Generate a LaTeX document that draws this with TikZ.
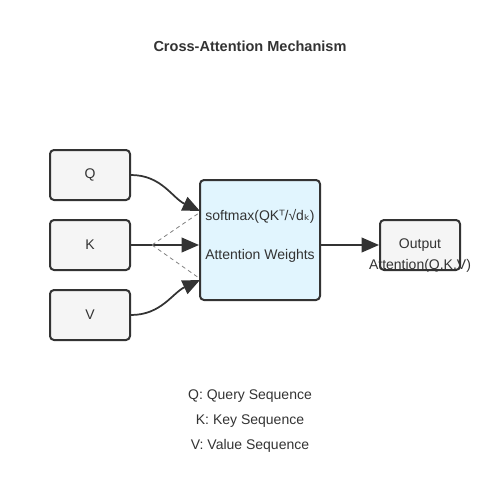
\documentclass[tikz,border=0pt]{standalone}
\usepackage{fontspec}
\setmainfont{Liberation Sans}
\newfontfamily\symfont{DejaVu Sans}
\usetikzlibrary{arrows.meta, positioning}

\definecolor{inkgray}{HTML}{333333}
\definecolor{boxgray}{HTML}{F5F5F5}
\definecolor{attnblue}{HTML}{E1F5FE}

\tikzset{
  seqbox/.style={draw=inkgray, line width=1.5pt, rounded corners=3pt, fill=boxgray,
    minimum width=60pt, minimum height=37.5pt, text=inkgray, font=\fontsize{10.5}{12}\selectfont},
  attnbox/.style={seqbox, fill=attnblue, minimum width=90pt, minimum height=90pt},
  flow/.style={draw=inkgray, line width=1.3pt, -{Triangle[length=13pt, width=11pt]}},
  hint/.style={draw=gray, line width=0.6pt, dash pattern=on 3pt off 2.5pt},
  plain/.style={text=inkgray, font=\fontsize{10.5}{12}\selectfont}
}

\begin{document}
\begin{tikzpicture}[x=0.75pt, y=-0.75pt]
\useasboundingbox (0,0) rectangle (500,500);

\path (250,46) node[plain, font=\bfseries\fontsize{10.9}{13}\selectfont] (title) {Cross-Attention Mechanism};

\path (90,175) node[seqbox] (q-in) {Q};
\path (90,245) node[seqbox] (k-in) {K};
\path (90,315) node[seqbox] (v-in) {V};

\path (260,240) node[attnbox] (attn) {};
\path (260,216) node[plain] (attn-fn) {softmax(QK{\symfont ᵀ}/√d{\symfont ₖ})};
\path (260,256) node[plain] (attn-lbl) {Attention Weights};

\path (420,245) node[seqbox] (out) {Output};
\path (420,266) node[plain] (out-lbl) {Attention(Q,K,V)};

% inputs into the attention block
\coordinate (split) at (152,245);
\draw[flow] (q-in.east) to[out=0, in=155] (200,211);
\draw[flow] (k-in.east) -- (attn.west |- k-in.east);
\draw[flow] (v-in.east) to[out=0, in=-155] (200,280);
\draw[hint] (split) -- (199,213);
\draw[hint] (split) -- (199,278);

\draw[flow] (attn.east |- out.west) -- (out.west);

% legend
\path (250,396) node[plain] (leg-q) {Q: Query Sequence};
\path (250,421) node[plain] (leg-k) {K: Key Sequence};
\path (250,446) node[plain] (leg-v) {V: Value Sequence};
\end{tikzpicture}
\end{document}
